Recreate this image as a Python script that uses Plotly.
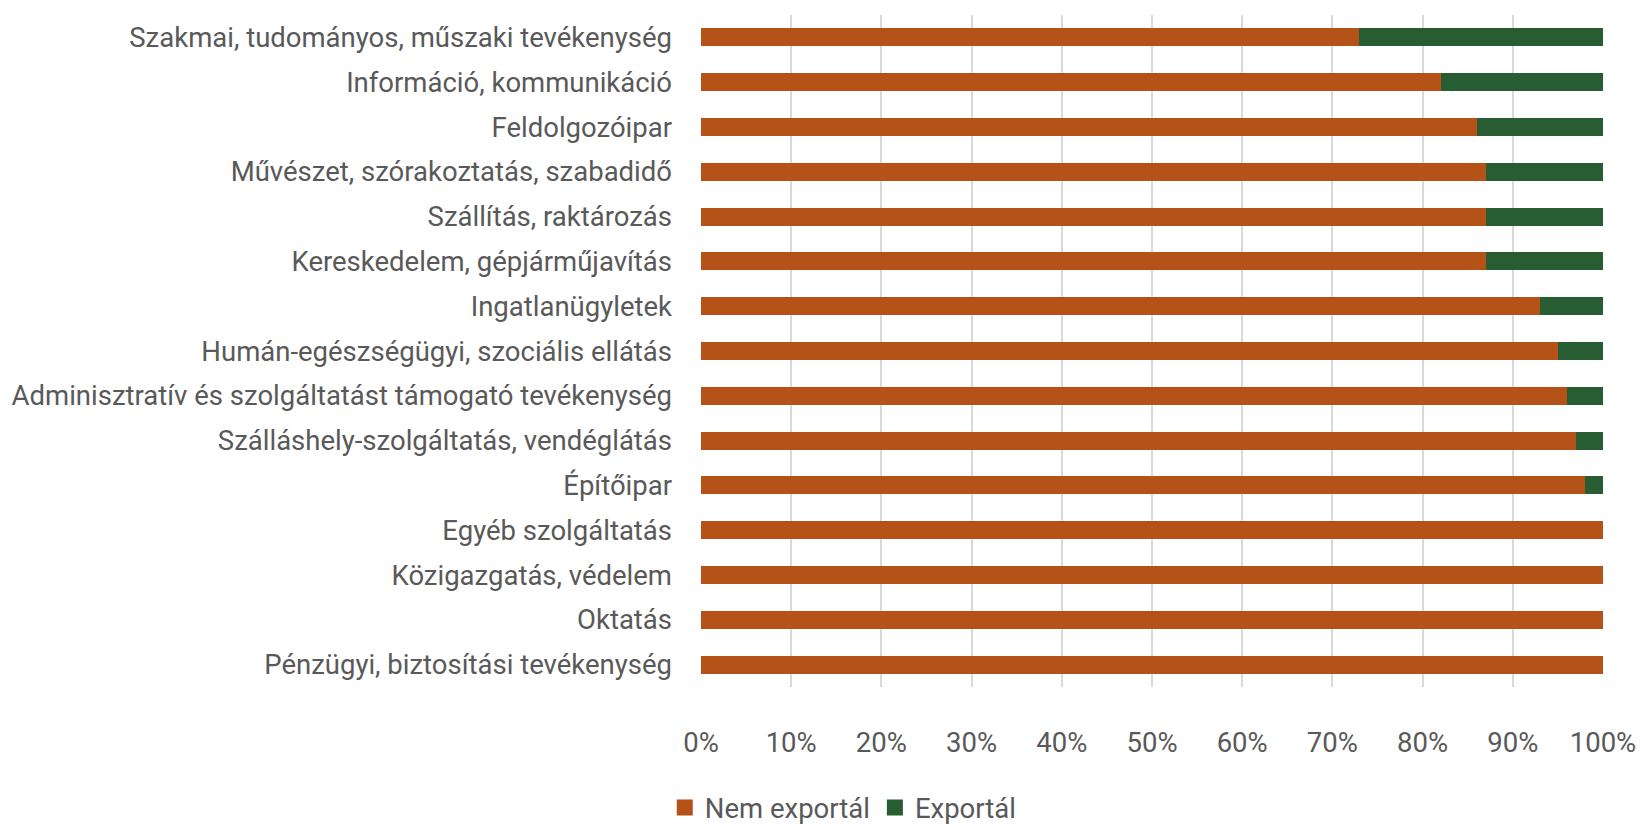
import plotly.graph_objects as go

categories = [
    "Szakmai, tudományos, műszaki tevékenység",
    "Információ, kommunikáció",
    "Feldolgozóipar",
    "Művészet, szórakoztatás, szabadidő",
    "Szállítás, raktározás",
    "Kereskedelem, gépjárműjavítás",
    "Ingatlanügyletek",
    "Humán-egészségügyi, szociális ellátás",
    "Adminisztratív és szolgáltatást támogató tevékenység",
    "Szálláshely-szolgáltatás, vendéglátás",
    "Építőipar",
    "Egyéb szolgáltatás",
    "Közigazgatás, védelem",
    "Oktatás",
    "Pénzügyi, biztosítási tevékenység",
]
nem_exportal = [73, 82, 86, 87, 87, 87, 93, 95, 96, 97, 98, 100, 100, 100, 100]
exportal = [27, 18, 14, 13, 13, 13, 7, 5, 4, 3, 2, 0, 0, 0, 0]
series_names = ["Nem exportál", "Exportál"]
x_ticks = [0, 10, 20, 30, 40, 50, 60, 70, 80, 90, 100]
x_tick_labels = [f"{v}%" for v in x_ticks]

ORANGE = "#B45218"
GREEN = "#285C32"
TEXT = "#595959"
FONT = "Roboto"
FSIZE = 27.5

fig = go.Figure()
for name, vals, col in zip(series_names, [nem_exportal, exportal], [ORANGE, GREEN]):
    fig.add_trace(go.Bar(
        y=categories, x=vals, orientation="h", name=name,
        marker=dict(color=col, line=dict(width=0)), showlegend=False,
    ))
# Legend entries with larger square swatches
for name, col in zip(series_names, [ORANGE, GREEN]):
    fig.add_trace(go.Scatter(
        x=[None], y=[None], mode="markers", name=name,
        marker=dict(symbol="square", size=17, color=col),
    ))

fig.update_layout(
    width=1647, height=824,
    barmode="stack", bargap=0.6,
    plot_bgcolor="white", paper_bgcolor="white",
    margin=dict(l=701, r=44, t=15, b=137),
    font=dict(family=FONT, size=FSIZE, color=TEXT),
    legend=dict(
        orientation="h", xref="container", yref="container",
        x=0.512, y=0.02, xanchor="center", yanchor="middle",
        font=dict(family=FONT, size=FSIZE, color=TEXT),
        traceorder="normal", itemwidth=30,
    ),
)
fig.update_xaxes(
    range=[0, 100], tickvals=x_ticks, ticktext=x_tick_labels,
    showgrid=True, gridcolor="#D9D9D9", gridwidth=1.5,
    zeroline=False, showline=False, ticks="", ticklabelstandoff=36,
    tickfont=dict(family=FONT, size=FSIZE, color=TEXT),
)
fig.update_yaxes(
    categoryorder="array", categoryarray=categories, autorange="reversed",
    showgrid=False, showline=False, zeroline=False, ticks="",
    ticklabelstandoff=28,
    tickfont=dict(family=FONT, size=FSIZE, color=TEXT),
)

fig.write_html("out.html")
